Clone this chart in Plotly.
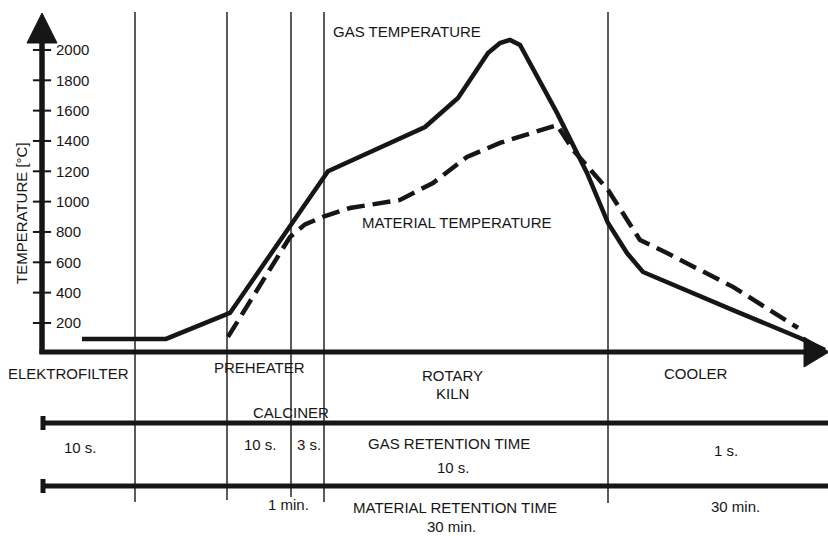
import plotly.graph_objects as go

# ---------------- data ----------------
temp_ticks = [200, 400, 600, 800, 1000, 1200, 1400, 1600, 1800, 2000]
tick_labels = [str(t) for t in temp_ticks]

# position along the plant (schematic units) and temperature in °C
gas_position = [82, 166, 230, 290, 328, 425, 458, 488, 500, 510, 520, 557, 587, 608, 627, 643, 687, 733, 800, 825]
gas_temperature = [95, 95, 266, 833, 1200, 1492, 1683, 1980, 2046, 2066, 2033, 1585, 1189, 859, 661, 536, 417, 285, 101, 22]

material_position = [228, 290, 305, 325, 350, 400, 433, 467, 500, 533, 557, 573, 608, 640, 667, 733, 798]
material_temperature = [108, 767, 850, 905, 958, 1011, 1123, 1295, 1387, 1452, 1505, 1341, 1077, 747, 661, 438, 167]

zone_boundaries = [135, 227, 291, 324, 608]

# ---------------- geometry ----------------
W, H = 828, 536
Y0_PX = 353.3          # pixel row of 0 °C
PX_PER_DEG = 0.15167
AXIS_X = 42
INK = "#161616"
FONT = "Arial, Liberation Sans, sans-serif"

zone_bottoms_px = [502, 500, 497, 502, 503]


def py(p):
    """pixel row -> paper y"""
    return 1 - p / H


y_range = [-(H - Y0_PX) / PX_PER_DEG, Y0_PX / PX_PER_DEG]

fig = go.Figure()

fig.add_trace(go.Scatter(
    x=[AXIS_X] * len(temp_ticks), y=temp_ticks, mode="markers",
    marker=dict(symbol="line-ew", size=13, line=dict(width=2, color=INK)),
    hoverinfo="skip", showlegend=False, cliponaxis=False))

fig.add_trace(go.Scatter(
    x=gas_position, y=gas_temperature, mode="lines",
    line=dict(color=INK, width=4.5), showlegend=False, cliponaxis=False,
    name="Gas temperature"))

fig.add_trace(go.Scatter(
    x=material_position, y=material_temperature, mode="lines",
    line=dict(color=INK, width=4.5, dash="18px,8px"), showlegend=False,
    cliponaxis=False, name="Material temperature"))

shapes = []
for x, b in zip(zone_boundaries, zone_bottoms_px):
    shapes.append(dict(type="line", xref="x", yref="paper", x0=x, x1=x,
                       y0=py(12), y1=py(b), line=dict(color=INK, width=1.4),
                       layer="below"))
# y axis line + arrow
shapes.append(dict(type="line", xref="x", yref="paper", x0=AXIS_X, x1=AXIS_X,
                   y0=py(354), y1=py(40), line=dict(color=INK, width=5.5)))
shapes.append(dict(type="path", xref="x", yref="paper",
                   path=f"M {AXIS_X-15} {py(43)} L {AXIS_X} {py(13)} L {AXIS_X+15} {py(43)} Z",
                   fillcolor=INK, line=dict(color=INK, width=1)))
# x axis line + arrow
shapes.append(dict(type="line", xref="x", yref="paper", x0=AXIS_X - 2.5, x1=808,
                   y0=py(352), y1=py(352), line=dict(color=INK, width=5)))
shapes.append(dict(type="path", xref="x", yref="paper",
                   path=f"M 804 {py(337)} L 829 {py(352)} L 804 {py(367)} Z",
                   fillcolor=INK, line=dict(color=INK, width=1)))
# retention time bars
for yb in (423, 486):
    shapes.append(dict(type="line", xref="x", yref="paper", x0=AXIS_X, x1=W,
                       y0=py(yb), y1=py(yb), line=dict(color=INK, width=5)))
    shapes.append(dict(type="line", xref="x", yref="paper", x0=AXIS_X + 1, x1=AXIS_X + 1,
                       y0=py(yb - 7), y1=py(yb + 7), line=dict(color=INK, width=5)))

labels = [
    ("GAS TEMPERATURE", 407, 32),
    ("MATERIAL TEMPERATURE", 456, 222),
    ("ELEKTROFILTER", 68, 373),
    ("PREHEATER", 259, 367),
    ("ROTARY", 452, 375),
    ("KILN", 452, 393),
    ("COOLER", 696, 373),
    ("CALCINER", 291, 412),
    ("10 s.", 80, 447),
    ("10 s.", 260, 444),
    ("3 s.", 309, 444),
    ("GAS RETENTION TIME", 449, 443),
    ("10 s.", 453, 467),
    ("1 s.", 726, 450),
    ("1 min.", 288, 504),
    ("MATERIAL RETENTION TIME", 455, 507),
    ("30 min.", 451, 526),
    ("30 min.", 735, 506),
]
annotations = [dict(text=t, x=x, y=py(yp), xref="x", yref="paper", showarrow=False,
                    xanchor="center", yanchor="middle",
                    font=dict(family=FONT, size=15, color=INK)) for t, x, yp in labels]
annotations.append(dict(text="TEMPERATURE [°C]", x=22, y=py(213), xref="x", yref="paper",
                        showarrow=False, textangle=-90, xanchor="center", yanchor="middle",
                        font=dict(family=FONT, size=15, color=INK)))

fig.update_layout(
    width=W, height=H, template="none",
    margin=dict(l=0, r=0, t=0, b=0, pad=0),
    paper_bgcolor="white", plot_bgcolor="white",
    showlegend=False,
    shapes=shapes, annotations=annotations,
    xaxis=dict(range=[0, W], visible=False, domain=[0, 1], automargin=False, fixedrange=True),
    yaxis=dict(range=y_range, anchor="free", position=AXIS_X / W, side="right",
               showline=False, showgrid=False, zeroline=False, ticks="",
               tickvals=temp_ticks, ticktext=tick_labels, ticklabelstandoff=13,
               tickfont=dict(family=FONT, size=15, color=INK), automargin=False,
               fixedrange=True),
)

fig.write_html("out.html", config={"displayModeBar": False},
               post_script="document.body.style.margin='0px';document.body.style.overflow='hidden';")
